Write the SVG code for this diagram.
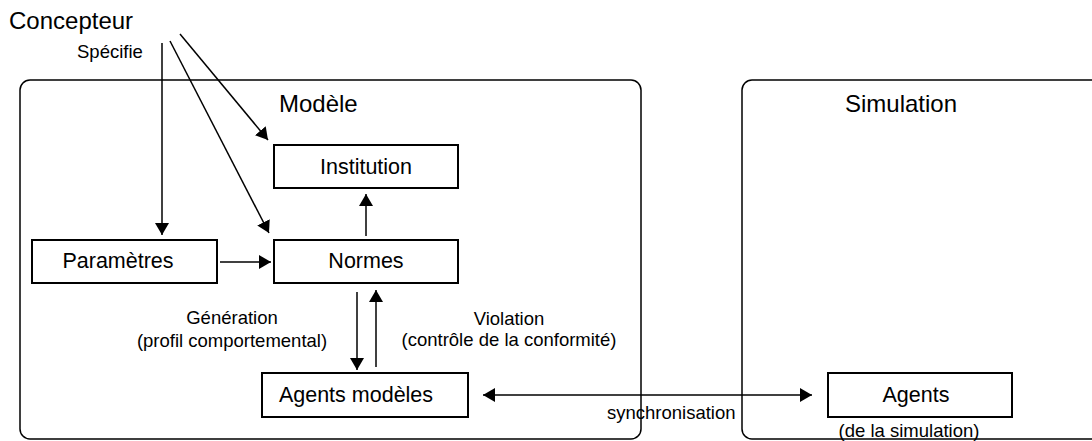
<svg xmlns="http://www.w3.org/2000/svg" width="1092" height="441" viewBox="0 0 1092 441">
<style>
text{font-family:"Liberation Sans",Arial,sans-serif;fill:#000}
.title{font-size:24px}
.lbl{font-size:21.5px;text-anchor:middle}
.sm{font-size:18.5px}
.box{fill:#fff;stroke:#000;stroke-width:2}
.cont{fill:none;stroke:#000;stroke-width:1.5}
.conn{stroke:#000;stroke-width:1.5;fill:none}
</style>
<defs>
<marker id="ah" markerUnits="userSpaceOnUse" markerWidth="12" markerHeight="14" refX="12" refY="7" orient="auto">
<path d="M0,0 L12,7 L0,14 z" fill="#000"/>
</marker>
<marker id="ahs" markerUnits="userSpaceOnUse" markerWidth="12" markerHeight="14" refX="0" refY="7" orient="auto">
<path d="M12,0 L0,7 L12,14 z" fill="#000"/>
</marker>
</defs>
<g id="concepteur"><text class="title" x="9" y="29">Concepteur</text></g>
<text class="sm" x="77" y="58">Spécifie</text>
<g id="modele">
<rect class="cont" x="20" y="80" width="621" height="359" rx="10"/>
<text class="title" x="279" y="112">Modèle</text>
</g>
<g id="simulation">
<rect class="cont" x="742" y="80" width="400" height="359" rx="10"/>
<text class="title" x="845" y="112">Simulation</text>
</g>
<g id="institution"><rect class="box" x="274" y="145" width="184" height="43"/><text class="lbl" x="366" y="174">Institution</text></g>
<g id="normes"><rect class="box" x="274" y="240" width="184" height="43"/><text class="lbl" x="366" y="268">Normes</text></g>
<g id="parametres"><rect class="box" x="32" y="240" width="185" height="43"/><text class="lbl" x="118" y="268">Paramètres</text></g>
<g id="agents-modeles"><rect class="box" x="262" y="373" width="206" height="44"/><text class="lbl" x="356" y="402">Agents modèles</text></g>
<g id="agents"><rect class="box" x="828" y="373" width="184" height="44"/><text class="lbl" x="916" y="402">Agents</text></g>
<text class="sm" x="909" y="437" text-anchor="middle">(de la simulation)</text>
<g id="connectors">
<line class="conn" x1="162" y1="43" x2="162" y2="235" marker-end="url(#ah)"/>
<line class="conn" x1="170" y1="41" x2="269" y2="233" marker-end="url(#ah)"/>
<line class="conn" x1="180" y1="34" x2="268" y2="140" marker-end="url(#ah)"/>
<line class="conn" x1="220" y1="262" x2="271" y2="262" marker-end="url(#ah)"/>
<line class="conn" x1="366" y1="236" x2="366" y2="194" marker-end="url(#ah)"/>
<line class="conn" x1="357" y1="292" x2="357" y2="370" marker-end="url(#ah)"/>
<line class="conn" x1="376" y1="367" x2="376" y2="290" marker-end="url(#ah)"/>
<line class="conn" x1="483" y1="395" x2="812" y2="395" marker-start="url(#ahs)" marker-end="url(#ah)"/>
<text class="sm" x="232" y="324" text-anchor="middle">Génération</text>
<text class="sm" x="232" y="347" text-anchor="middle">(profil comportemental)</text>
<text class="sm" x="509" y="325" text-anchor="middle">Violation</text>
<text class="sm" x="509" y="346" text-anchor="middle">(contrôle de la conformité)</text>
<text class="sm" x="607" y="419">synchronisation</text>
</g>
</svg>
